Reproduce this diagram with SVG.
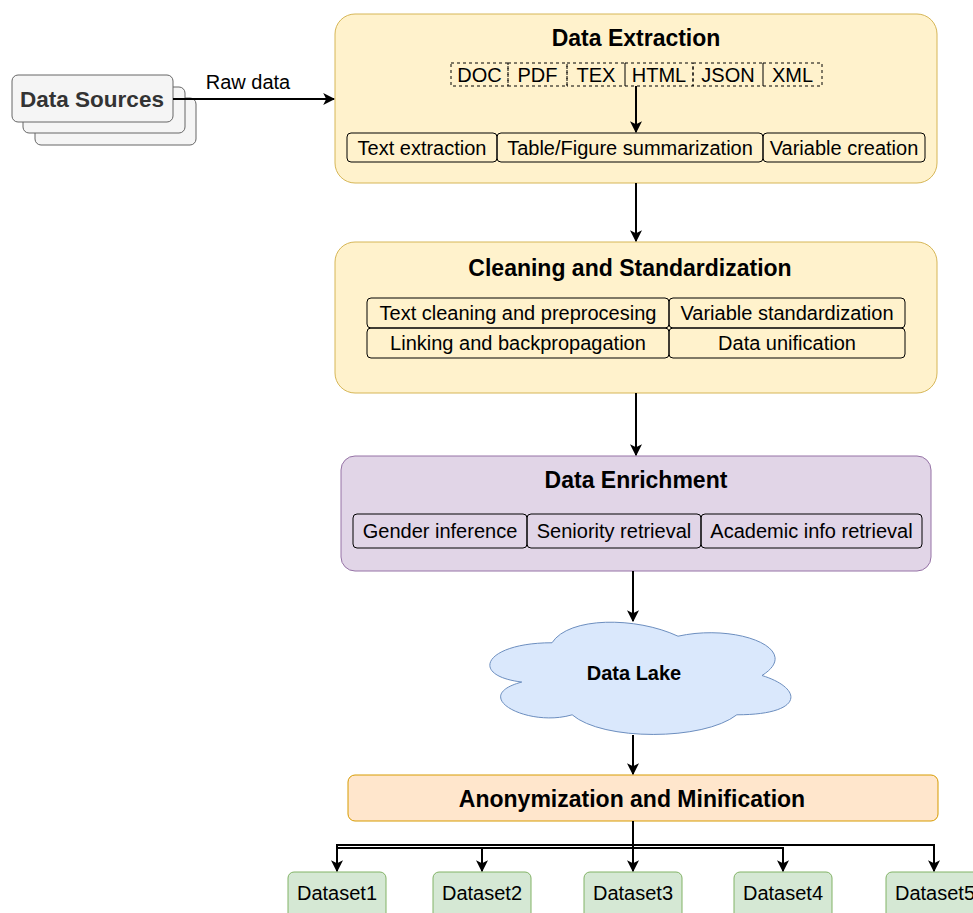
<svg xmlns="http://www.w3.org/2000/svg" width="973" height="913" viewBox="0 0 973 913">
<defs>
<marker id="arr" viewBox="0 0 10 10" refX="9" refY="5" markerWidth="12" markerHeight="12" markerUnits="userSpaceOnUse" orient="auto">
<path d="M0,0 L10,5 L0,10 L2.5,5 Z" fill="#000"/>
</marker>
<style>
text{font-family:"Liberation Sans",Arial,Helvetica,sans-serif;fill:#000;text-anchor:middle;dominant-baseline:central}
.t{font-size:20px}
.h{font-size:23px;font-weight:bold}
.sub{fill:none;stroke:#000;stroke-width:1}
.fmt{fill:none;stroke:#000;stroke-width:1;stroke-dasharray:3 3}
.yel{fill:#fff2cc;stroke:#d6b656;stroke-width:1}
.edge{fill:none;stroke:#000;stroke-width:2}
.ds{fill:#d5e8d4;stroke:#82b366;stroke-width:1}
.src{fill:#f5f5f5;stroke:#666;stroke-width:1}
</style>
</defs>
<rect width="973" height="913" fill="#fff"/>

<g id="data-sources">
<rect class="src" x="35" y="98" width="161" height="47" rx="6"/>
<rect class="src" x="23" y="87" width="162" height="46" rx="6"/>
<rect class="src" x="12" y="75" width="161" height="47" rx="6"/>
<text x="92" y="99" style="font-size:22.5px;font-weight:bold;fill:#333">Data Sources</text>
</g>

<g id="data-extraction">
<rect class="yel" x="335" y="14" width="602" height="169" rx="20"/>
<text class="h" x="636" y="38">Data Extraction</text>
<rect class="fmt" x="451" y="63" width="57" height="23"/>
<text class="t" x="479.5" y="75">DOC</text>
<rect class="fmt" x="508" y="63" width="59" height="23"/>
<text class="t" x="537.5" y="75">PDF</text>
<rect class="fmt" x="567" y="63" width="58" height="23"/>
<text class="t" x="596" y="75">TEX</text>
<rect class="fmt" x="625" y="63" width="68" height="23"/>
<text class="t" x="659" y="75">HTML</text>
<rect class="fmt" x="693" y="63" width="70" height="23"/>
<text class="t" x="728" y="75">JSON</text>
<rect class="fmt" x="763" y="63" width="59" height="23"/>
<text class="t" x="792.5" y="75">XML</text>
<rect class="sub" x="347" y="133" width="150" height="29" rx="4"/>
<text class="t" x="422" y="147.5">Text extraction</text>
<rect class="sub" x="497" y="133" width="266" height="29" rx="4"/>
<text class="t" x="630" y="147.5">Table/Figure summarization</text>
<rect class="sub" x="763" y="133" width="162" height="29" rx="4"/>
<text class="t" x="844" y="147.5">Variable creation</text>
</g>

<g id="cleaning">
<rect class="yel" x="335" y="242" width="602" height="151" rx="20"/>
<text class="h" x="630" y="268">Cleaning and Standardization</text>
<rect class="sub" x="367" y="298" width="302" height="30" rx="4"/>
<text class="t" x="518" y="313">Text cleaning and preprocesing</text>
<rect class="sub" x="669" y="298" width="236" height="30" rx="4"/>
<text class="t" x="787" y="313">Variable standardization</text>
<rect class="sub" x="367" y="328" width="302" height="30" rx="4"/>
<text class="t" x="518" y="343">Linking and backpropagation</text>
<rect class="sub" x="669" y="328" width="236" height="30" rx="4"/>
<text class="t" x="787" y="343">Data unification</text>
</g>

<g id="enrichment">
<rect x="341" y="456" width="590" height="115" rx="14" fill="#e1d5e7" stroke="#9673a6" stroke-width="1"/>
<text class="h" x="636" y="480">Data Enrichment</text>
<rect class="sub" x="353" y="514" width="174" height="34" rx="4"/>
<text class="t" x="440" y="531">Gender inference</text>
<rect class="sub" x="527" y="514" width="174" height="34" rx="4"/>
<text class="t" x="614" y="531">Seniority retrieval</text>
<rect class="sub" x="701" y="514" width="221" height="34" rx="4"/>
<text class="t" x="811.5" y="531">Academic info retrieval</text>
</g>

<g id="data-lake">
<path d="M552,642.75 C484.8,642.75 468,675.5 521.76,682.05 C468,696.46 528.48,727.9 572.16,714.8 C602.4,741 703.2,741 736.8,714.8 C804,714.8 804,688.6 762,675.5 C804,649.3 736.8,623.1 678,636.2 C636,616.55 568.8,616.55 552,642.75 Z" fill="#dae8fc" stroke="#6c8ebf" stroke-width="1"/>
<text x="634" y="673" style="font-size:20px;font-weight:bold">Data Lake</text>
</g>

<g id="anonymization">
<rect x="348" y="775" width="590" height="46" rx="7" fill="#ffe6cc" stroke="#d79b00" stroke-width="1"/>
<text class="h" x="632" y="799">Anonymization and Minification</text>
</g>

<g id="dataset1"><rect class="ds" x="288" y="872" width="98" height="50" rx="6"/><text class="t" x="337" y="893">Dataset1</text></g>
<g id="dataset2"><rect class="ds" x="433" y="872" width="98" height="50" rx="6"/><text class="t" x="482" y="893">Dataset2</text></g>
<g id="dataset3"><rect class="ds" x="584" y="872" width="98" height="50" rx="6"/><text class="t" x="633" y="893">Dataset3</text></g>
<g id="dataset4"><rect class="ds" x="734" y="872" width="98" height="50" rx="6"/><text class="t" x="783" y="893">Dataset4</text></g>
<g id="dataset5"><rect class="ds" x="886" y="872" width="98" height="50" rx="6"/><text class="t" x="935" y="893">Dataset5</text></g>

<g id="connectors">
<path class="edge" d="M173,99 L334,99" marker-end="url(#arr)"/>
<text class="t" x="248" y="82">Raw data</text>
<path class="edge" d="M636,86 L636,132" marker-end="url(#arr)"/>
<path class="edge" d="M636,183 L636,241" marker-end="url(#arr)"/>
<path class="edge" d="M636,393 L636,455" marker-end="url(#arr)"/>
<path class="edge" d="M633,571 L633,621" marker-end="url(#arr)"/>
<path class="edge" d="M633,735 L633,774" marker-end="url(#arr)"/>
<path class="edge" d="M633,821 L633,845 L337,845 L337,871" marker-end="url(#arr)"/>
<path class="edge" d="M633,848 L337,848 M482,848 L482,871" marker-end="url(#arr)"/>
<path class="edge" d="M633,845 L633,871" marker-end="url(#arr)"/>
<path class="edge" d="M633,848 L783,848 L783,871" marker-end="url(#arr)"/>
<path class="edge" d="M633,845 L934,845 L934,871" marker-end="url(#arr)"/>
</g>
</svg>
